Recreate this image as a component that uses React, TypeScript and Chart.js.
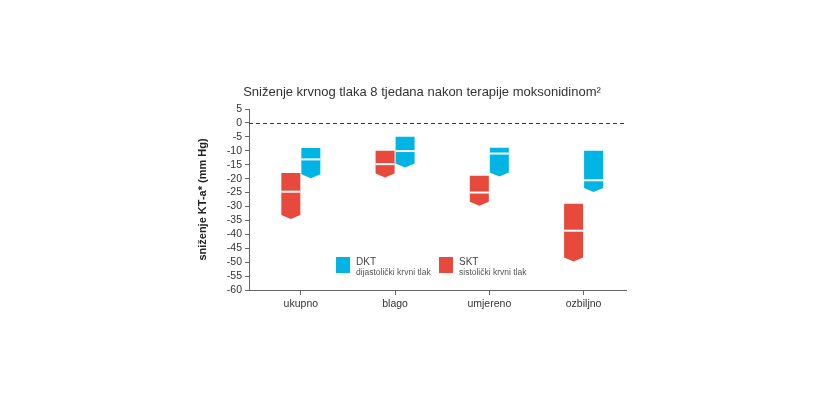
import React, { useEffect, useRef } from "react";
import { Chart, registerables } from "chart.js";

Chart.register(...registerables);

const categories = ["ukupno", "blago", "umjereno", "ozbiljno"];

// SKT – sistolički krvni tlak (red)
const sktTop = [-18, -10, -19, -29];
const sktMean = [-24.7, -14.8, -25, -38.7];
const sktBottom = [-34.5, -19.6, -29.7, -49.8];

// DKT – dijastolički krvni tlak (blue)
const dktTop = [-9, -5, -8.9, -10];
const dktMean = [-13.1, -10.1, -11, -20.6];
const dktBottom = [-19.9, -16, -19.2, -24.8];

const yMin = -60;
const yMax = 5;
const yStep = 5;

const titleText = "Sniženje krvnog tlaka 8 tjedana nakon terapije moksonidinom²";
const yTitle = "sniženje KT-a* (mm Hg)";
const legendItems = [
  { label: "DKT", sub: "dijastolički krvni tlak" },
  { label: "SKT", sub: "sistolički krvni tlak" },
];

const RED = "#e8493d";
const BLUE = "#00b4e4";
const FONT = "'Liberation Sans', Arial, Helvetica, sans-serif";

const means = [sktMean, dktMean];
const colors = [RED, BLUE];

const shapePlugin = {
  id: "shapes",
  beforeDatasetsDraw(chart: any) {
    const ctx = chart.ctx;
    const y0 = chart.scales.y.getPixelForValue(0);
    const { left, right } = chart.chartArea;
    ctx.save();
    ctx.strokeStyle = "#333";
    ctx.lineWidth = 1;
    ctx.setLineDash([4, 3]);
    ctx.beginPath();
    ctx.moveTo(left, Math.round(y0) + 0.5);
    ctx.lineTo(right, Math.round(y0) + 0.5);
    ctx.stroke();
    ctx.restore();
  },
  afterDatasetsDraw(chart: any) {
    const ctx = chart.ctx;
    const ys = chart.scales.y;
    ctx.save();
    chart.data.datasets.forEach((_ds: any, di: number) => {
      const meta = chart.getDatasetMeta(di);
      meta.data.forEach((el: any, i: number) => {
        const p = el.getProps(["x", "y", "base", "width"], true);
        const top = Math.min(p.y, p.base);
        const bot = Math.max(p.y, p.base);
        const l = p.x - p.width / 2 + 0.5;
        const r = p.x + p.width / 2 - 0.5;
        const cx = (l + r) / 2;
        const depth = 4;
        ctx.fillStyle = colors[di];
        ctx.beginPath();
        ctx.moveTo(l, top);
        ctx.lineTo(r, top);
        ctx.lineTo(r, bot - depth);
        ctx.lineTo(cx, bot);
        ctx.lineTo(l, bot - depth);
        ctx.closePath();
        ctx.fill();
        const my = ys.getPixelForValue(means[di][i]);
        ctx.fillStyle = "#ffffff";
        ctx.fillRect(l, my - 1, r - l, 2);
      });
    });
    ctx.restore();
  },
  afterDraw(chart: any) {
    const ctx = chart.ctx;
    ctx.save();
    // title
    ctx.fillStyle = "#333";
    ctx.font = `13px ${FONT}`;
    ctx.textAlign = "center";
    ctx.textBaseline = "alphabetic";
    ctx.fillText(titleText, 422, 96);
    // legend
    const xs = [336, 439];
    legendItems.forEach((it, k) => {
      const x = xs[k];
      ctx.fillStyle = k === 0 ? BLUE : RED;
      ctx.fillRect(x, 257, 14, 16);
      ctx.textAlign = "left";
      ctx.fillStyle = "#444";
      ctx.font = `10px ${FONT}`;
      ctx.fillText(it.label, x + 20, 265);
      ctx.fillStyle = "#555";
      ctx.font = `8.5px ${FONT}`;
      ctx.fillText(it.sub, x + 20, 275);
    });
    ctx.restore();
  },
};

export default function App() {
  const ref = useRef<HTMLCanvasElement | null>(null);

  useEffect(() => {
    if (!ref.current) return;
    const chart = new Chart(ref.current, {
      type: "bar",
      data: {
        datasets: [
          {
            label: "SKT",
            data: categories.map((_, i) => ({ x: i, y: [sktBottom[i], sktTop[i]] })) as any,
            backgroundColor: "rgba(0,0,0,0)",
            borderWidth: 0,
            barThickness: 20,
          },
          {
            label: "DKT",
            data: categories.map((_, i) => ({ x: i, y: [dktBottom[i], dktTop[i]] })) as any,
            backgroundColor: "rgba(0,0,0,0)",
            borderWidth: 0,
            barThickness: 20,
          },
        ],
      },
      options: {
        animation: false,
        responsive: true,
        maintainAspectRatio: false,
        events: [],
        layout: { padding: { left: 192, right: 195, top: 109, bottom: 77 } },
        plugins: {
          legend: { display: false },
          title: { display: false },
          tooltip: { enabled: false },
        },
        scales: {
          x: {
            type: "linear",
            min: -0.55,
            max: 3.45,
            offset: false,
            afterBuildTicks: (s: any) => {
              s.ticks = categories.map((_, i) => ({ value: i }));
            },
            grid: {
              display: true,
              drawOnChartArea: false,
              drawTicks: true,
              tickLength: 5,
              offset: false,
              color: "#666",
            },
            border: { display: true, color: "#666", width: 1 },
            ticks: {
              autoSkip: false,
              maxRotation: 0,
              font: { family: FONT, size: 10.5 },
              color: "#333",
              padding: 3,
              callback: (v: any) => {
                const i = Math.round(Number(v));
                return categories[i] !== undefined ? categories[i] : "";
              },
            },
            afterFit: (s: any) => {
              s.height = 30;
            },
          },
          y: {
            min: yMin,
            max: yMax,
            ticks: {
              stepSize: yStep,
              autoSkip: false,
              font: { family: FONT, size: 10.5 },
              color: "#333",
              padding: 3,
            },
            grid: {
              display: true,
              drawOnChartArea: false,
              drawTicks: true,
              tickLength: 4,
              color: "#666",
            },
            border: { display: true, color: "#666", width: 1 },
            title: {
              display: true,
              text: yTitle,
              font: { family: FONT, size: 11, weight: "bold" },
              color: "#222",
              padding: 4,
            },
            afterFit: (s: any) => {
              s.width = 57;
            },
          },
        },
      },
      plugins: [shapePlugin],
    });
    return () => chart.destroy();
  }, []);

  return (
    <div style={{ position: "absolute", left: 0, top: 0, width: 821, height: 397, background: "#fff" }}>
      <canvas ref={ref} />
    </div>
  );
}
